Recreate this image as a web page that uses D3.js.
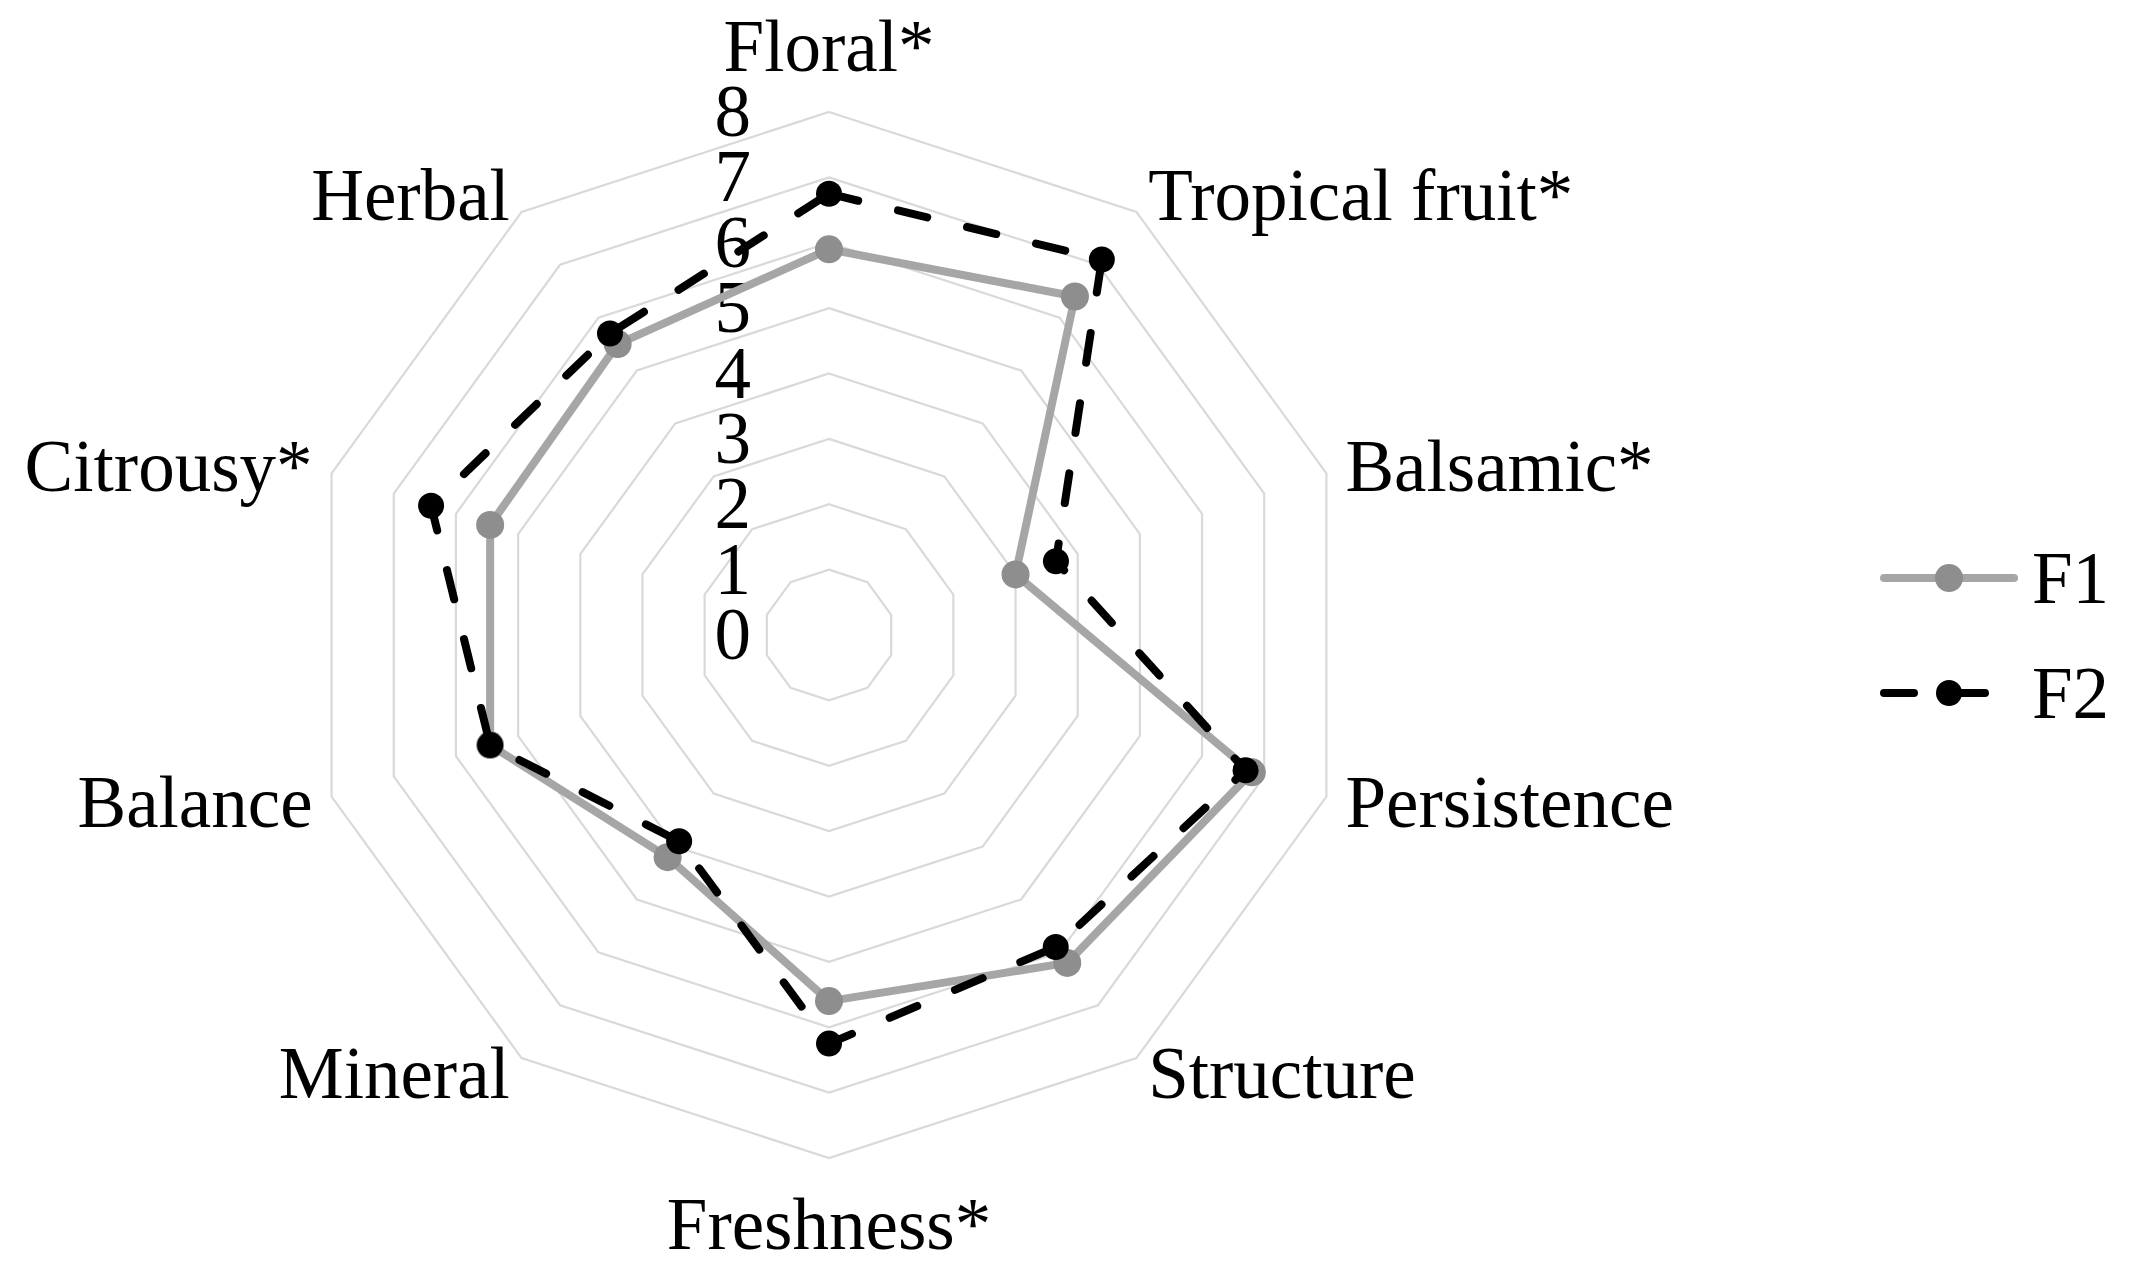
<!DOCTYPE html>
<html>
<head>
<meta charset="utf-8">
<script src="https://cdn.jsdelivr.net/npm/d3@7"></script>
<style>
  body { margin: 0; background: #fff; }
  text { font-family: "Liberation Serif", "Times New Roman", serif; fill: #000; }
</style>
</head>
<body>
<div id="chart"></div>
<script>
// data
const attributes = ["Floral*", "Tropical fruit*", "Balsamic*", "Persistence", "Structure",
  "Freshness*", "Mineral", "Balance", "Citrousy*", "Herbal"];
const f1 = [5.9, 6.4, 3.0, 6.8, 6.2, 5.6, 4.2, 5.45, 5.45, 5.5];
const f2 = [6.75, 7.1, 3.65, 6.7, 5.9, 6.25, 3.9, 5.45, 6.4, 5.7];
const ticks = [0, 1, 2, 3, 4, 5, 6, 7, 8];
const seriesNames = ["F1", "F2"];

//size
const width = 2129, height = 1282;
const cx = 829, cy = 635, outer = 523;
const fontSize = 73;

const svg = d3.select("#chart")
  .append("svg")
  .attr("width", width)
  .attr("height", height);

const g = svg.append("g").attr("transform", "translate(" + cx + "," + cy + ")");

const r = d3.scaleLinear().domain([0, 8]).range([0, outer]);
const angle = d3.scalePoint().domain(attributes).range([0, 2 * Math.PI * (1 - 1 / attributes.length)]);

//grid decagons (no spokes)
const ring = d3.lineRadial()
  .angle(d => angle(d))
  .curve(d3.curveLinearClosed);

g.append("g")
  .selectAll("path")
  .data(ticks.filter(t => t > 0))
  .enter()
  .append("path")
  .attr("d", t => ring.radius(() => r(t))(attributes))
  .attr("fill", "none")
  .attr("stroke", "#d9d9d9")
  .attr("stroke-width", 2.2);

//tick labels, left of the vertical axis
g.append("g")
  .selectAll("text")
  .data(ticks)
  .enter()
  .append("text")
  .attr("x", -78)
  .attr("y", t => -r(t) + 24)
  .attr("text-anchor", "end")
  .style("font-size", fontSize + "px")
  .text(t => t);

//category labels
g.append("g")
  .selectAll("text")
  .data(attributes)
  .enter()
  .append("text")
  .style("font-size", fontSize + "px")
  .attr("text-anchor", d => {
    const s = Math.sin(angle(d));
    return Math.abs(s) < 0.1 ? "middle" : (s > 0 ? "start" : "end");
  })
  .attr("x", d => (outer + 20) * Math.sin(angle(d)))
  .attr("y", d => {
    const c = Math.cos(angle(d));
    if (c > 0.9) return -(outer + 41);
    if (c < -0.9) return outer + 41 + 50;
    return -(outer + 20) * c + 24;
  })
  .text(d => d);

//series
const series = [
  { name: seriesNames[0], values: f1, line: "#a6a6a6", marker: "#8e8e8e", dash: null, rad: 14 },
  { name: seriesNames[1], values: f2, line: "#000", marker: "#000", dash: "30 41", rad: 13 }
];

const radar = d3.lineRadial()
  .angle((d, i) => angle(attributes[i]))
  .radius(d => r(d))
  .curve(d3.curveLinearClosed);

series.forEach(s => {
  const sg = g.append("g");
  sg.append("path")
    .attr("d", radar(s.values))
    .attr("fill", "none")
    .attr("stroke", s.line)
    .attr("stroke-width", 8)
    .attr("stroke-linecap", "round")
    .attr("stroke-linejoin", "round")
    .attr("stroke-dasharray", s.dash);
  sg.selectAll("circle")
    .data(s.values)
    .enter()
    .append("circle")
    .attr("cx", (d, i) => r(d) * Math.sin(angle(attributes[i])))
    .attr("cy", (d, i) => -r(d) * Math.cos(angle(attributes[i])))
    .attr("r", s.rad)
    .attr("fill", s.marker);
});

//legend
const legend = svg.append("g")
  .selectAll("g")
  .data(series)
  .enter()
  .append("g")
  .attr("transform", (d, i) => "translate(1884," + (578 + i * 115) + ")");

legend.append("line")
  .attr("x1", 0).attr("x2", 130)
  .attr("stroke", d => d.line)
  .attr("stroke-width", 8)
  .attr("stroke-linecap", "round")
  .attr("stroke-dasharray", d => d.dash);

legend.append("circle")
  .attr("cx", 65)
  .attr("r", d => d.rad)
  .attr("fill", d => d.marker);

legend.append("text")
  .attr("x", 148)
  .attr("y", 25)
  .style("font-size", fontSize + "px")
  .text(d => d.name);
</script>
</body>
</html>
